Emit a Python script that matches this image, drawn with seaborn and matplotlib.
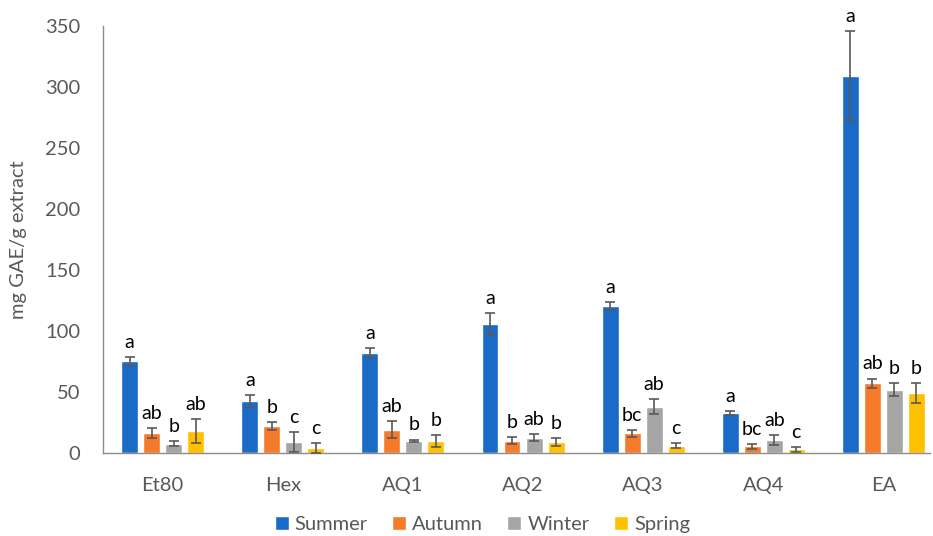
import matplotlib
matplotlib.use("Agg")
import matplotlib.pyplot as plt
import seaborn as sns
import pandas as pd
import numpy as np

extracts = ["Et80", "Hex", "AQ1", "AQ2", "AQ3", "AQ4", "EA"]
seasons = ["Summer", "Autumn", "Winter", "Spring"]

summer = [75, 42.5, 82, 106, 120.5, 33, 309]
autumn = [16.5, 22, 19, 10, 16, 5.5, 57]
winter = [7.5, 9, 10, 12.5, 38, 10.5, 52]
spring = [18, 4, 10, 9, 6, 3, 49]

summer_err = [4, 5, 4, 9, 3, 1.5, 37]
autumn_err = [4, 3, 7, 3, 3, 2, 4]
winter_err = [2, 8, 1, 3, 6, 4, 5]
spring_err = [10, 4, 5, 3, 2, 2, 8]

summer_sig = ["a", "a", "a", "a", "a", "a", "a"]
autumn_sig = ["ab", "b", "ab", "b", "bc", "bc", "ab"]
winter_sig = ["b", "c", "b", "ab", "ab", "ab", "b"]
spring_sig = ["ab", "c", "b", "b", "c", "c", "b"]

palette = ["#1A6BC8", "#F57A2A", "#A5A5A5", "#FFC000"]

values = [summer, autumn, winter, spring]
errors = [summer_err, autumn_err, winter_err, spring_err]
letters = [summer_sig, autumn_sig, winter_sig, spring_sig]

rows = []
for s, vals in zip(seasons, values):
    for e, v in zip(extracts, vals):
        rows.append({"Extract": e, "Season": s, "Value": v})
df = pd.DataFrame(rows)

sns.set_style("white")
plt.rcParams["font.family"] = ["Lato", "DejaVu Sans"]

fig, ax = plt.subplots(figsize=(9.33, 5.36), dpi=100)
fig.subplots_adjust(left=0.110, right=0.997, bottom=0.155, top=0.951)

sns.barplot(data=df, x="Extract", y="Value", hue="Season", order=extracts,
            hue_order=seasons, palette=palette, width=0.733, gap=0.23,
            errorbar=None, saturation=1, ax=ax, legend=True)

# error bars and significance letters on each bar
bar_groups = list(ax.containers)
for hi, cont in enumerate(bar_groups):
    for bi, bar in enumerate(cont.patches):
        xc = bar.get_x() + bar.get_width() / 2
        h = bar.get_height()
        err = errors[hi][bi]
        ax.errorbar(xc, h, yerr=err, fmt="none", ecolor="#595959",
                    elinewidth=1.2, capsize=3.5, capthick=1.2, zorder=3)
        ax.text(xc, h + err + 5, letters[hi][bi], ha="center", va="bottom",
                fontsize=14, color="black")

ax.set_ylim(0, 350)
ax.set_xlim(-0.5, 6.39)
ax.set_yticks(range(0, 351, 50))
ax.set_xlabel("")
ax.set_ylabel("mg GAE/g extract", fontsize=14.5, color="#595959", labelpad=13)
ax.tick_params(axis="both", length=0, labelsize=14.5, colors="#595959")
ax.tick_params(axis="y", pad=16)
ax.tick_params(axis="x", pad=17)

for side in ["top", "right"]:
    ax.spines[side].set_visible(False)
for side in ["left", "bottom"]:
    ax.spines[side].set_color("#8C8C8C")
    ax.spines[side].set_linewidth(1.0)

handles, labels = ax.get_legend_handles_labels()
ax.get_legend().remove()
fig.legend(handles, labels, loc="center", bbox_to_anchor=(0.517, 0.022),
           ncol=4, frameon=False, fontsize=14.5, handlelength=0.7,
           handleheight=0.7, handletextpad=0.3, columnspacing=1.2,
           labelcolor="#595959")

fig.savefig("out.png", dpi=100)
